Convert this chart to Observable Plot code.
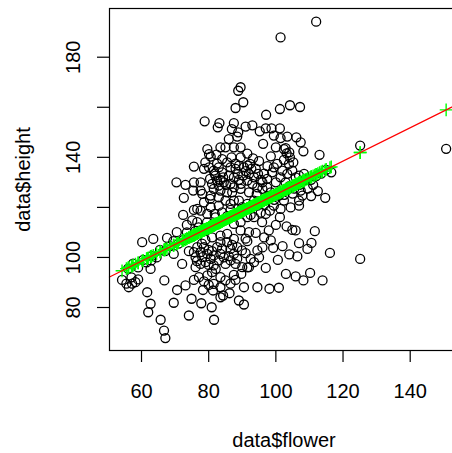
<!DOCTYPE html>
<html><head><meta charset="utf-8">
<script src="https://cdn.jsdelivr.net/npm/d3@7"></script>
<script src="https://cdn.jsdelivr.net/npm/@observablehq/plot@0.6"></script>
<style>html,body{margin:0;padding:0;background:#fff;overflow:hidden}svg{overflow:hidden}</style>
</head><body><div id="chart"></div>
<script>
const flower = [
  112.0,101.4,89.5,88.8,90.3,88.0,101.2,104.2,107.2,
  97.1,78.8,83.2,82.7,87.5,86.9,88.8,91.0,93.0,95.2,97.0,98.7,101.2,
  88.5,99.4,101.4,103.4,106.1,107.4,108.2,113.0,96.2,98.5,100.0,102.4,103.2,104.2,86.0,85.0,
  87.5,89.5,79.6,80.1,80.6,82.3,83.5,84.0,86.8,89.5,93.2,91.5,104.0,102.9,125.1,150.7,
  75.6,78.6,80.1,81.5,83.0,84.0,82.0,80.4,82.5,84.3,86.0,87.5,81.0,83.0,84.5,
  86.5,88.0,89.0,90.5,91.5,92.7,92.0,90.3,88.7,93.5,94.7,91.5,93.0,89.6,96.0,
  97.4,98.9,99.4,100.4,101.9,103.4,104.9,101.4,102.9,105.9,106.9,108.4,108.6,97.4,94.5,
  87.5,86.5,77.6,75.6,73.1,70.4,92.3,105.2,103.9,102.4,95.0,97.5,79.0,85.5,82.5,
  81.8,83.5,85.2,89.0,91.0,94.0,96.5,100.0,95.5,88.0,
  72.6,75.4,78.1,75.6,76.6,72.4,78.6,80.4,77.6,81.5,83.5,85.5,80.6,83.0,
  85.0,86.5,80.6,83.0,77.6,79.6,81.8,84.0,89.5,92.0,94.3,96.0,93.5,91.5,
  89.0,87.5,87.0,90.0,94.5,100.9,102.4,104.4,106.9,106.9,107.9,107.4,111.1,114.7,
  99.4,98.2,97.0,95.5,101.4,101.2,98.5,103.5,105.0,109.5,110.5,112.5,
  56.0,57.5,59.0,60.5,61.5,63.0,64.5,65.5,67.0,68.5,69.5,71.0,72.5,73.5,74.5,
  76.0,77.0,78.5,79.5,81.0,82.0,84.0,85.5,86.5,88.0,89.5,91.0,92.5,93.5,95.0,
  96.5,98.0,99.5,101.0,102.5,104.0,105.5,107.0,109.0,110.5,112.0,113.5,115.0,116.5,
  63.5,60.2,67.6,70.5,75.1,76.6,73.5,89.5,92.0,94.0,95.9,98.5,103.2,104.9,105.9,
  111.6,97.9,87.5,85.5,83.5,89.5,91.5,93.5,87.5,100.0,96.5,91.0,81.0,79.0,
  62.9,69.6,72.1,74.1,75.6,76.6,77.6,78.6,78.1,79.6,80.6,81.5,79.1,77.6,83.0,
  82.5,83.5,85.5,86.5,87.5,88.5,89.9,91.0,91.5,92.5,93.5,92.0,90.0,88.0,86.5,
  85.0,83.5,81.5,76.1,97.0,100.6,99.2,104.0,106.4,109.4,106.9,110.6,116.1,125.1,94.5,
  80.0,78.0,81.0,84.5,86.0,88.5,80.0,76.5,84.0,87.0,95.0,96.0,102.0,
  54.2,56.2,57.2,58.2,59.0,62.7,61.7,66.8,70.6,73.1,75.6,76.1,77.1,78.6,78.3,
  79.6,81.0,82.1,83.5,85.0,88.0,83.5,84.3,86.2,90.5,89.7,91.5,94.5,98.1,100.9,
  103.0,105.9,108.2,110.2,113.9,81.5,86.5,87.5,80.0,55.5,57.0,
  62.7,62.0,65.7,66.7,67.1,69.6,74.1,74.9,77.8,80.9,81.6,81.3,83.5,89.0,90.5
];
const height = [
  194.2,187.9,168.0,166.6,162.0,159.7,159.3,160.8,160.1,
  157.0,154.4,153.7,152.0,153.7,151.3,150.0,152.3,152.8,150.4,151.6,151.6,151.6,
  148.3,148.7,147.7,148.3,148.0,146.0,142.4,141.0,145.4,140.4,144.0,143.3,141.6,140.0,147.3,144.0,
  144.0,144.0,143.3,141.3,140.3,141.1,144.0,139.3,140.0,140.0,139.6,141.5,142.0,143.7,144.7,143.4,
  136.3,135.4,136.0,134.7,136.0,134.0,132.7,131.4,130.7,132.0,132.7,132.0,129.4,128.7,130.0,
  136.0,135.4,136.7,136.0,136.7,135.4,133.4,132.7,133.4,132.0,133.4,130.7,129.4,129.4,130.0,
  131.4,134.0,136.0,137.4,134.7,133.4,134.7,132.0,130.0,132.0,132.7,133.4,131.0,128.0,128.0,
  128.0,129.4,130.0,130.0,129.0,130.0,137.4,138.0,137.4,139.0,138.5,136.5,138.0,138.0,137.5,
  133.5,131.0,129.0,131.0,134.5,135.5,133.5,130.0,131.0,137.5,
  123.8,126.7,125.4,119.0,119.4,117.0,122.0,123.4,126.7,127.4,126.7,126.0,124.7,124.0,
  122.7,121.4,120.1,120.7,118.7,117.4,117.4,118.0,127.4,126.0,125.4,127.4,122.7,121.4,
  122.7,122.7,126.0,120.1,120.7,124.7,122.7,120.0,120.7,122.7,124.7,126.7,129.0,123.8,
  120.7,118.7,117.4,117.9,119.4,116.1,126.0,127.0,125.5,127.5,124.5,126.5,
  95.5,97.5,96.0,99.0,98.0,100.5,100.0,103.0,102.5,104.5,106.5,105.5,107.0,110.0,108.0,
  110.5,112.0,110.5,114.0,113.0,116.0,114.5,116.5,119.0,117.5,118.5,119.0,117.0,121.0,122.5,
  121.0,124.0,123.0,126.0,125.0,128.5,127.5,129.0,131.5,131.0,132.5,133.5,135.0,134.0,
  107.4,106.1,107.8,110.1,114.8,114.1,113.0,110.8,110.1,109.8,114.1,106.8,112.4,111.0,110.8,
  110.5,110.8,107.4,109.4,108.7,114.1,116.1,116.1,113.4,113.0,108.0,107.5,108.0,107.0,
  98.8,101.4,97.4,102.5,102.1,104.1,102.1,104.1,100.1,101.4,99.4,100.8,98.1,97.4,98.8,
  104.1,106.1,106.1,103.4,101.4,104.1,102.8,101.7,106.5,99.4,98.1,96.1,96.1,97.4,98.8,
  97.4,101.4,96.8,100.1,95.8,99.0,103.8,101.2,100.4,103.4,105.7,105.8,101.8,99.4,102.8,
  103.0,105.5,102.5,100.0,100.5,99.5,97.0,98.5,103.5,105.0,100.0,104.0,104.5,
  91.0,88.1,89.5,90.1,91.2,95.4,86.1,90.8,87.0,88.8,91.0,96.1,92.1,90.4,87.0,
  92.8,94.1,95.4,92.1,90.8,91.0,88.1,84.8,85.7,88.1,93.4,96.0,88.1,87.5,87.9,
  93.4,92.4,90.8,93.8,90.8,89.4,89.5,93.0,89.0,89.5,92.0,
  81.5,78.1,75.1,70.8,67.8,81.9,76.8,83.5,81.7,80.1,75.1,86.8,84.1,82.8,81.2
];
// fitted line lm(height ~ flower)
const intercept = 58.55;
const slope = 0.6663;
const xTicks = [60, 80, 100, 120, 140];
const yTicks = [80, 100, 120, 140, 160, 180];
const yTickLabels = [80, 100, 140, 180];
const xLabel = "data$flower";
const yLabel = "data$height";
const xDomain = [50.47, 154.38];
const yDomain = [62.82, 199.46];

const n = Math.min(flower.length, height.length);
const idx = d3.range(n);
const fitted = v => intercept + slope * v;

const plusSymbol = {
  draw(context, size) {
    const r = Math.sqrt(size / Math.PI);
    context.moveTo(-r, 0); context.lineTo(r, 0);
    context.moveTo(0, -r); context.lineTo(0, r);
  }
};

const chart = Plot.plot({
  width: 452,
  height: 453,
  marginLeft: 109,
  marginRight: -6,
  marginTop: 8,
  marginBottom: 103,
  style: {fontFamily: "'Liberation Sans', Arial, Helvetica, sans-serif", fontSize: "20px", color: "black", background: "white"},
  x: {domain: xDomain},
  y: {domain: yDomain},
  marks: [
    Plot.dot(idx, {x: i => flower[i], y: i => height[i], r: 4.5, stroke: "black", strokeWidth: 1.3, fill: "none"}),
    Plot.dot(idx, {x: i => flower[i], y: i => fitted(flower[i]), r: 6.4, symbol: plusSymbol, stroke: "#00ff00", strokeWidth: 1.4, fill: "none"}),
    Plot.line(xDomain, {x: d => d, y: d => fitted(d), stroke: "#ff0000", strokeWidth: 1.3}),
    Plot.frame({stroke: "black", strokeWidth: 1.2}),
    Plot.axisX({ticks: xTicks, tickSize: 12, tickPadding: 21, label: null, fontSize: 20, strokeWidth: 1.2}),
    Plot.axisY({ticks: yTicks, tickSize: 12, tickFormat: () => "", label: null, strokeWidth: 1.2}),
    Plot.text(yTickLabels, {y: d => d, text: d => String(d), frameAnchor: "left", dx: -29.5, rotate: -90, lineAnchor: "bottom", textAnchor: "middle", fontSize: 20}),
    Plot.text([xLabel], {text: d => d, frameAnchor: "bottom", dy: 96, lineAnchor: "bottom", textAnchor: "middle", fontSize: 20}),
    Plot.text([yLabel], {text: d => d, frameAnchor: "left", dx: -79.5, rotate: -90, lineAnchor: "bottom", textAnchor: "middle", fontSize: 20})
  ]
});
document.getElementById("chart").appendChild(chart);
</script>
</body></html>
